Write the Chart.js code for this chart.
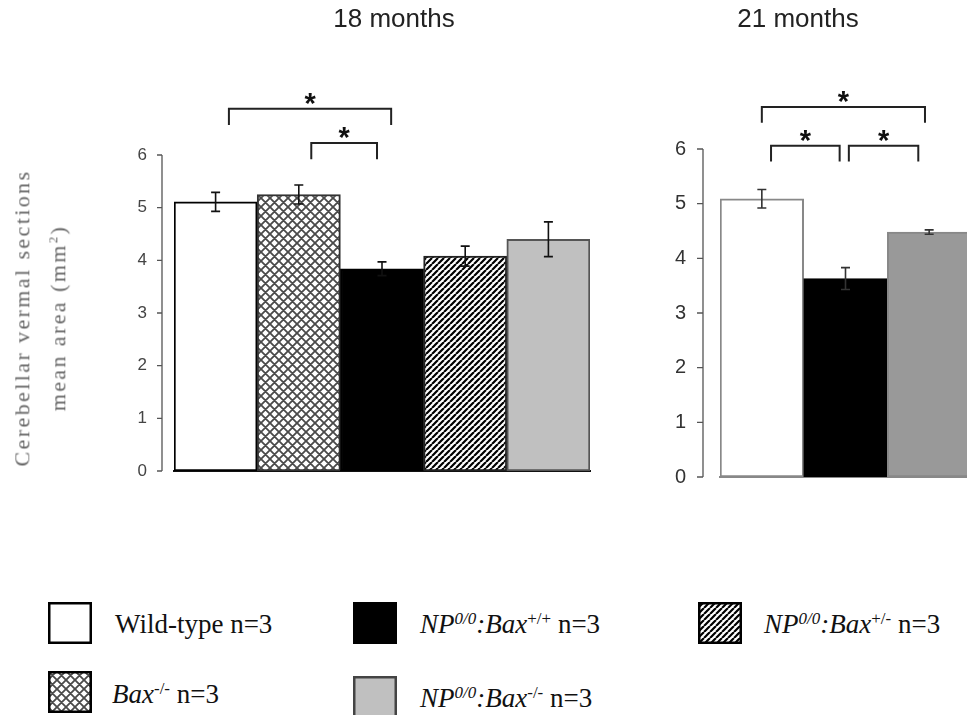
<!DOCTYPE html>
<html>
<head>
<meta charset="utf-8">
<script src="https://cdn.jsdelivr.net/npm/chart.js@4/dist/chart.umd.min.js"></script>
<style>
  html, body { margin: 0; padding: 0; background: #fff; overflow: hidden; }
  #page { position: relative; width: 967px; height: 715px; overflow: hidden; }
  canvas { position: absolute; }
  .title { position: absolute; top: 3px; font: 26px "Liberation Sans", Arial, sans-serif; color: #222; white-space: nowrap; transform: translateX(-50%); }
  #ytitle { position: absolute; left: 40px; top: 318px; transform: translate(-50%, -50%) rotate(-90deg);
    font: 22px "Liberation Serif", "Times New Roman", serif; letter-spacing: 2.4px; color: #666;
    text-align: center; line-height: 31px; white-space: nowrap; }
  #ytitle sup { font-size: 13px; }
  .lg { position: absolute; font: 27px "Liberation Serif", "Times New Roman", serif; color: #111; white-space: nowrap; transform: translateY(-50%); }
  .lg sup { font-size: 17px; vertical-align: 9px; line-height: 0; }
</style>
</head>
<body>
<div id="page">
  <canvas id="c18" width="620" height="500" style="left:0;top:0"></canvas>
  <canvas id="c21" width="380" height="500" style="left:600px;top:0"></canvas>
  <div class="title" id="t18" style="left:394px"></div>
  <div class="title" id="t21" style="left:798px"></div>
  <div id="ytitle">Cerebellar vermal sections<br>mean area (mm<sup>2</sup>)</div>
</div>
<script>
// --- data ---
const titles = ['18 months', '21 months'];
const groups18 = ['Wild-type', 'Bax-/-', 'NP0/0:Bax+/+', 'NP0/0:Bax+/-', 'NP0/0:Bax-/-'];
const means18 = [5.11, 5.25, 3.84, 4.08, 4.40];
const sem18 = [0.18, 0.18, 0.13, 0.19, 0.33];
const groups21 = ['Wild-type', 'NP0/0:Bax+/+', 'NP0/0:Bax-/-'];
const means21 = [5.09, 3.63, 4.48];
const sem21 = [0.17, 0.20, 0.04];
const yTicks = [0, 1, 2, 3, 4, 5, 6];
// significance brackets, in category index / axis units
const sig18 = [
  { from: 0.16, to: 2.11, top: 6.88, bottom: 6.57, label: '*' },
  { from: 1.15, to: 1.94, top: 6.23, bottom: 5.92, label: '*' }
];
const sig21 = [
  { from: 0.00, to: 1.95, top: 6.77, bottom: 6.48, label: '*' },
  { from: 0.11, to: 0.93, top: 6.06, bottom: 5.77, label: '*' },
  { from: 1.04, to: 1.87, top: 6.06, bottom: 5.77, label: '*' }
];
const legendLabels = [
  'Wild-type n=3',
  '<i>NP<sup>0/0</sup>:Bax</i><sup>+/+</sup> n=3',
  '<i>NP<sup>0/0</sup>:Bax</i><sup>+/-</sup> n=3',
  '<i>Bax</i><sup>-/-</sup> n=3',
  '<i>NP<sup>0/0</sup>:Bax</i><sup>-/-</sup> n=3'
];
const legendFills = ['white', 'black', 'stripe', 'cross', 'lightgray'];

// --- layout of legend (box x, box y, text x, text centre y) ---
const legendSlots = [[48, 602, 115, 624], [353, 602, 420, 624], [698, 602, 764, 624], [48, 671, 112, 694], [353, 676, 420, 698]];

function makePattern(kind) {
  const c = document.createElement('canvas');
  const s = kind === 'cross' ? 9 : 6;
  c.width = c.height = s;
  const g = c.getContext('2d');
  g.fillStyle = '#fff';
  g.fillRect(0, 0, s, s);
  g.strokeStyle = kind === 'cross' ? '#4a4a4a' : '#000';
  g.lineWidth = kind === 'cross' ? 1.8 : 2.2;
  g.beginPath();
  for (let k = -1; k <= 1; k++) {
    g.moveTo(k * s, s); g.lineTo(k * s + s, 0);
    if (kind === 'cross') { g.moveTo(k * s, 0); g.lineTo(k * s + s, s); }
  }
  g.stroke();
  return g.createPattern(c, 'repeat');
}
const pat = { stripe: makePattern('stripe'), cross: makePattern('cross') };
const fillFor = { white: '#ffffff', black: '#000000', lightgray: '#c0c0c0', stripe: pat.stripe, cross: pat.cross };

// axis line with tick marks, drawn a bit left of the bars
const sideAxis = {
  id: 'sideAxis',
  afterDraw(chart, args, o) {
    const y = chart.scales.y, ctx = chart.ctx;
    const x0 = chart.chartArea.left - o.gap;
    ctx.save();
    ctx.strokeStyle = o.color; ctx.lineWidth = 1.3;
    ctx.beginPath();
    ctx.moveTo(x0, y.getPixelForValue(y.max)); ctx.lineTo(x0, y.getPixelForValue(y.min));
    y.ticks.forEach(t => {
      const py = y.getPixelForValue(t.value);
      ctx.moveTo(x0 - o.tick, py); ctx.lineTo(x0, py);
    });
    ctx.stroke();
    ctx.restore();
  }
};

const errorBars = {
  id: 'errorBars',
  afterDatasetsDraw(chart, args, o) {
    const y = chart.scales.y, ctx = chart.ctx;
    const meta = chart.getDatasetMeta(0);
    const vals = chart.data.datasets[0].data;
    ctx.save();
    ctx.strokeStyle = o.color; ctx.lineWidth = o.width;
    ctx.beginPath();
    meta.data.forEach((bar, i) => {
      const hi = y.getPixelForValue(vals[i] + o.errors[i]);
      const lo = y.getPixelForValue(vals[i] - o.errors[i]);
      ctx.moveTo(bar.x, hi); ctx.lineTo(bar.x, lo);
      ctx.moveTo(bar.x - o.cap, hi); ctx.lineTo(bar.x + o.cap, hi);
      ctx.moveTo(bar.x - o.cap, lo); ctx.lineTo(bar.x + o.cap, lo);
    });
    ctx.stroke();
    ctx.restore();
  }
};

const brackets = {
  id: 'brackets',
  afterDraw(chart, args, o) {
    const x = chart.scales.x, y = chart.scales.y, ctx = chart.ctx;
    ctx.save();
    ctx.strokeStyle = o.color; ctx.lineWidth = 2;
    ctx.fillStyle = '#111';
    ctx.font = 'bold 29px "Liberation Sans", Arial, sans-serif';
    ctx.textAlign = 'center'; ctx.textBaseline = 'alphabetic';
    o.items.forEach(b => {
      const x1 = x.getPixelForValue(b.from), x2 = x.getPixelForValue(b.to);
      const yt = y.getPixelForValue(b.top), yb = y.getPixelForValue(b.bottom);
      ctx.beginPath();
      ctx.moveTo(x1, yb); ctx.lineTo(x1, yt); ctx.lineTo(x2, yt); ctx.lineTo(x2, yb);
      ctx.stroke();
      ctx.fillText(b.label, (x1 + x2) / 2, yt + 4);
    });
    ctx.restore();
  }
};

function makeChart(id, labels, values, errs, fills, borders, sig, cfg) {
  return new Chart(document.getElementById(id), {
    type: 'bar',
    data: {
      labels: labels,
      datasets: [{
        data: values,
        backgroundColor: fills,
        borderColor: borders,
        borderWidth: 2,
        borderSkipped: false,
        barPercentage: 1,
        categoryPercentage: 1
      }]
    },
    options: {
      responsive: false,
      animation: false,
      layout: { padding: cfg.padding },
      plugins: {
        legend: { display: false },
        tooltip: { enabled: false },
        sideAxis: { gap: cfg.gap, tick: cfg.tick, color: '#555' },
        errorBars: { errors: errs, color: cfg.errColor, width: 1.6, cap: 4.5 },
        brackets: { items: sig, color: '#222' }
      },
      scales: {
        x: {
          grid: { display: false },
          border: { display: true, color: cfg.baseColor, width: 2 },
          ticks: { display: false },
          afterFit(s) { s.height = 0; s.paddingLeft = 0; s.paddingRight = 0; }
        },
        y: {
          min: 0, max: 6,
          afterBuildTicks(s) { s.ticks = yTicks.map(v => ({ value: v })); },
          grid: { display: false, drawTicks: false },
          border: { display: false },
          ticks: { padding: cfg.tickPad, color: cfg.tickColor, font: cfg.tickFont },
          afterFit(s) { s.width = cfg.yWidth; s.paddingTop = 0; s.paddingBottom = 0; }
        }
      }
    },
    plugins: [sideAxis, errorBars, brackets]
  });
}

document.getElementById('t18').textContent = titles[0];
document.getElementById('t21').textContent = titles[1];

makeChart('c18', groups18, means18, sem18,
  [fillFor.white, fillFor.cross, fillFor.black, fillFor.stripe, fillFor.lightgray],
  ['#000', '#333', '#000', '#222', '#555'], sig18,
  { padding: { left: 100, right: 30, top: 155, bottom: 29 }, yWidth: 74, gap: 12, tick: 5,
    tickPad: 27, tickColor: '#444', tickFont: { family: '"Liberation Sans Narrow", "Liberation Sans", Arial', size: 17 },
    errColor: '#111', baseColor: '#111' });

makeChart('c21', groups21, means21, sem21,
  [fillFor.white, fillFor.black, '#999999'],
  ['#888', '#000', '#888'], sig21,
  { padding: { left: 60, right: 9, top: 149, bottom: 23 }, yWidth: 60, gap: 17, tick: 6,
    tickPad: 34, tickColor: '#333', tickFont: { family: '"Liberation Sans", Arial', size: 20 },
    errColor: '#333', baseColor: '#888' });

// legend
const page = document.getElementById('page');
legendLabels.forEach((txt, i) => {
  const [bx, by, tx, ty] = legendSlots[i];
  const c = document.createElement('canvas');
  c.width = 44; c.height = 42;
  c.style.left = bx + 'px'; c.style.top = by + 'px';
  const g = c.getContext('2d');
  g.fillStyle = fillFor[legendFills[i]];
  g.fillRect(0, 0, 44, 42);
  g.strokeStyle = legendFills[i] === 'lightgray' ? '#444' : '#000';
  g.lineWidth = 2.5;
  g.strokeRect(1.25, 1.25, 41.5, 39.5);
  page.appendChild(c);
  const d = document.createElement('div');
  d.className = 'lg';
  d.style.left = tx + 'px'; d.style.top = ty + 'px';
  d.innerHTML = txt;
  page.appendChild(d);
});
</script>
</body>
</html>
